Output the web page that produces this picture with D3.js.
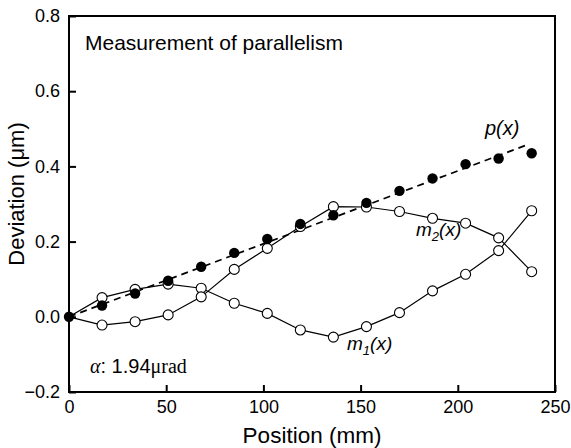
<!DOCTYPE html>
<html>
<head>
<meta charset="utf-8">
<script src="https://cdn.jsdelivr.net/npm/d3@7"></script>
<style>
html,body{margin:0;padding:0;background:#fff;}
svg{display:block;}
text{font-family:"Liberation Sans",Arial,sans-serif;fill:#000;}
</style>
</head>
<body>
<svg id="chart" width="571" height="448"></svg>
<script>
// ---- data ----
const positions = [0,17,34,51,68,85,102,119,136,153,170,187,204,221,238];
const pValues  = [0,0.030,0.062,0.096,0.133,0.170,0.207,0.247,0.270,0.303,0.335,0.368,0.406,0.421,0.435];
const m2Values = [0,-0.022,-0.013,0.005,0.053,0.126,0.182,0.240,0.293,0.292,0.280,0.262,0.249,0.210,0.120];
const m1Values = [0,0.051,0.073,0.087,0.076,0.036,0.009,-0.035,-0.054,-0.026,0.011,0.069,0.113,0.176,0.282];
const fitX = [0,236];
const fitY = [0,0.458];
const xTicks = [0,50,100,150,200,250];
const yTicks = [-0.2,0.0,0.2,0.4,0.6,0.8];

const svg = d3.select("#chart");
const L=69, R=555, T=16, B=392;
const x = d3.scaleLinear().domain([0,250]).range([L,R]);
const y = d3.scaleLinear().domain([-0.2,0.8]).range([B,T]);

// axes
const xAxis = d3.axisBottom(x).tickValues(xTicks).tickSize(-7).tickPadding(8).tickFormat(d3.format("d"));
const yAxis = d3.axisLeft(y).tickValues(yTicks).tickSize(-7).tickPadding(9).tickFormat(d3.format(".1f"));
const gx = svg.append("g").attr("transform",`translate(0,${B})`).call(xAxis);
const gy = svg.append("g").attr("transform",`translate(${L},0)`).call(yAxis);
[gx,gy].forEach(g=>{
  g.select(".domain").remove();
  g.selectAll(".tick line").attr("stroke","#000").attr("stroke-width",2);
  g.selectAll(".tick text").attr("font-size",18).attr("fill","#000")
   .style("font-family","'Liberation Sans',Arial,sans-serif");
});
// frame
svg.append("rect").attr("x",L).attr("y",T).attr("width",R-L).attr("height",B-T)
  .attr("fill","none").attr("stroke","#000").attr("stroke-width",2);

// lines
const line = d3.line().x(d=>x(d[0])).y(d=>y(d[1]));
const m1 = positions.map((p,i)=>[p,m1Values[i]]);
const m2 = positions.map((p,i)=>[p,m2Values[i]]);
const pp = positions.map((p,i)=>[p,pValues[i]]);
const fit = fitX.map((p,i)=>[p,fitY[i]]);

svg.append("path").datum(m1).attr("d",line).attr("fill","none").attr("stroke","#000").attr("stroke-width",1.2);
svg.append("path").datum(m2).attr("d",line).attr("fill","none").attr("stroke","#000").attr("stroke-width",1.2);
svg.append("path").datum(fit).attr("d",line).attr("fill","none").attr("stroke","#000")
  .attr("stroke-width",1.7).attr("stroke-dasharray","7,5");

// open circles
[m1,m2].forEach(s=>{
  svg.append("g").selectAll("circle").data(s.slice(1)).join("circle")
    .attr("cx",d=>x(d[0])).attr("cy",d=>y(d[1])).attr("r",5)
    .attr("fill","#fff").attr("stroke","#000").attr("stroke-width",1.1);
});
// filled circles
svg.append("g").selectAll("circle").data(pp).join("circle")
  .attr("cx",d=>x(d[0])).attr("cy",d=>y(d[1])).attr("r",5.2).attr("fill","#000");

// labels
svg.append("text").attr("x",85).attr("y",50).attr("font-size",21).text("Measurement of parallelism");

svg.append("text").attr("x",485).attr("y",135).attr("font-size",20).attr("font-style","italic").text("p(x)");

const m2t = svg.append("text").attr("x",416).attr("y",236).attr("font-size",19).attr("font-style","italic");
m2t.append("tspan").text("m");
m2t.append("tspan").attr("font-size",13).attr("dy",5).text("2");
m2t.append("tspan").attr("dy",-5).text("(x)");

const m1t = svg.append("text").attr("x",347).attr("y",350).attr("font-size",19).attr("font-style","italic");
m1t.append("tspan").text("m");
m1t.append("tspan").attr("font-size",13).attr("dy",5).text("1");
m1t.append("tspan").attr("dy",-5).text("(x)");

const at = svg.append("text").attr("x",90).attr("y",373).attr("font-size",20);
at.append("tspan").attr("font-family","'Liberation Serif',serif").attr("font-style","italic").text("α");
at.append("tspan").text(": 1.94");
at.append("tspan").attr("font-family","'Liberation Serif',serif").text("μrad");

svg.append("text").attr("x",(L+R)/2).attr("y",443).attr("font-size",22.5).attr("text-anchor","middle").text("Position (mm)");
svg.append("text").attr("transform","translate(24,194) rotate(-90)").attr("font-size",22)
  .attr("text-anchor","middle").text("Deviation (μm)");
</script>
</body>
</html>
